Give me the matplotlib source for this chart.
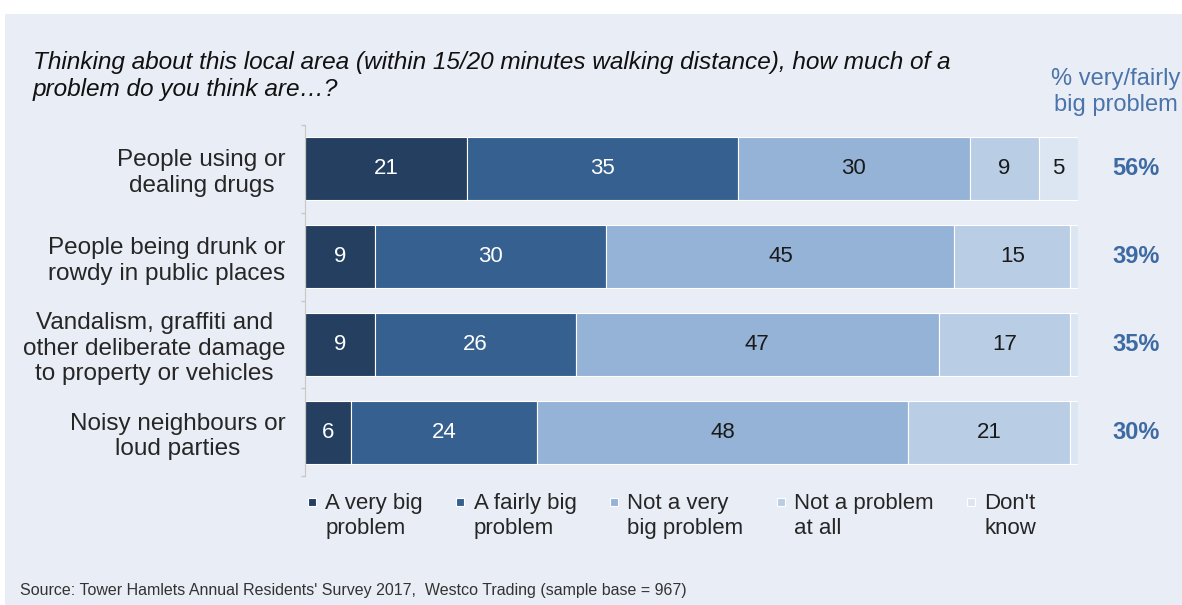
import matplotlib.pyplot as plt
import numpy as np
from matplotlib.patches import Rectangle
from matplotlib.legend_handler import HandlerPatch, update_from_first_child

plt.rcParams['font.family'] = ['Liberation Sans', 'DejaVu Sans']

categories = ["People using or\ndealing drugs",
              "People being drunk or\nrowdy in public places",
              "Vandalism, graffiti and\nother deliberate damage\nto property or vehicles",
              "Noisy neighbours or\nloud parties"]
series_names = ["A very big\nproblem", "A fairly big\nproblem", "Not a very\nbig problem",
                "Not a problem\nat all", "Don't\nknow"]
very_big = [21, 9, 9, 6]
fairly_big = [35, 30, 26, 24]
not_very_big = [30, 45, 47, 48]
not_at_all = [9, 15, 17, 21]
dont_know = [5, 1, 1, 1]
pct_big = ["56%", "39%", "35%", "30%"]

series = [very_big, fairly_big, not_very_big, not_at_all, dont_know]
colors = ["#243F60", "#35608F", "#95B3D7", "#B9CDE5", "#DCE6F2"]
text_colors = ["white", "white", "#1a1a1a", "#1a1a1a", "#1a1a1a"]
bg = "#E9EDF5"

LEG_FS = 16
LEG_LS = 1.23


def small_square(legend, orig_handle, xdescent, ydescent, width, height, fontsize):
    # little square sitting next to the first line of a two-line label
    s = 0.36 * fontsize
    gap = 0.914 * LEG_LS * fontsize
    yc = 0.5 * height + 0.5 * gap + 1.0
    return Rectangle((-xdescent, yc - s / 2), s, s)


fig = plt.figure(figsize=(11.82, 6.05), dpi=100)
fig.patch.set_facecolor("white")
fig.patches.append(plt.Rectangle((0.004, 0), 0.996, 1 - 14 / 605, transform=fig.transFigure,
                                 facecolor=bg, edgecolor="none", zorder=-10))

ax = fig.add_axes([305 / 1182, 1 - 476 / 605, 773 / 1182, 351 / 605])
ax.set_facecolor("none")

y = np.arange(len(categories))
left = np.zeros(len(categories))
handles = []
for vals, name, col, tcol in zip(series, series_names, colors, text_colors):
    vals = np.array(vals, dtype=float)
    b = ax.barh(y, vals, left=left, height=0.72, color=col, edgecolor="white",
                linewidth=0.8, label=name)
    handles.append(b)
    for yi, v, l in zip(y, vals, left):
        if v >= 3:
            ax.text(l + v / 2, yi, f"{int(v)}", ha="center", va="center",
                    fontsize=16, color=tcol)
    left += vals

ax.set_xlim(0, 100)
ax.set_ylim(3.5, -0.5)
ax.set_yticks(y)
ax.set_yticklabels(categories, fontsize=17.5, color="#262626", linespacing=1.2,
                   multialignment="center")
ax.tick_params(axis="y", length=0, pad=14)
ax.set_yticks(np.arange(-0.5, 4.0, 1.0), minor=True)
ax.tick_params(axis="y", which="minor", length=3, color="#C8C8C8", width=1)
ax.set_xticks([])
for s in ["top", "right", "bottom"]:
    ax.spines[s].set_visible(False)
ax.spines["left"].set_color("#C8C8C8")

for yi, p in zip(y, pct_big):
    ax.text(107.5, yi, p, ha="center", va="center", fontsize=17, fontweight="bold",
            color="#3E6AA3", clip_on=False)

fig.text(1116 / 1182, 1 - 92 / 605, "% very/fairly\nbig problem", ha="center", va="center",
         fontsize=17, color="#4A74AB", linespacing=1.2)

fig.text(33 / 1182, 1 - 76 / 605,
         "Thinking about this local area (within 15/20 minutes walking distance), how much of a\n"
         "problem do you think are…?", ha="left", va="center", fontsize=17.6,
         style="italic", color="#111111", linespacing=1.2)

leg = fig.legend(handles=handles, loc="upper left", bbox_to_anchor=(308 / 1182, 1 - 493 / 605),
                 ncol=5, frameon=False, fontsize=LEG_FS, handlelength=0.36,
                 handletextpad=0.42, columnspacing=1.5, borderpad=0, borderaxespad=0,
                 labelcolor="#262626",
                 handler_map={type(handles[0]): HandlerPatch(patch_func=small_square,
                                                             update_func=update_from_first_child)})
for t in leg.get_texts():
    t.set_linespacing(LEG_LS)

fig.text(20 / 1182, 1 - 590 / 605,
         "Source: Tower Hamlets Annual Residents' Survey 2017,  Westco Trading (sample base = 967)",
         ha="left", va="center", fontsize=11.5, color="#333333")

fig.savefig("out.png", dpi=100, facecolor=fig.get_facecolor())
